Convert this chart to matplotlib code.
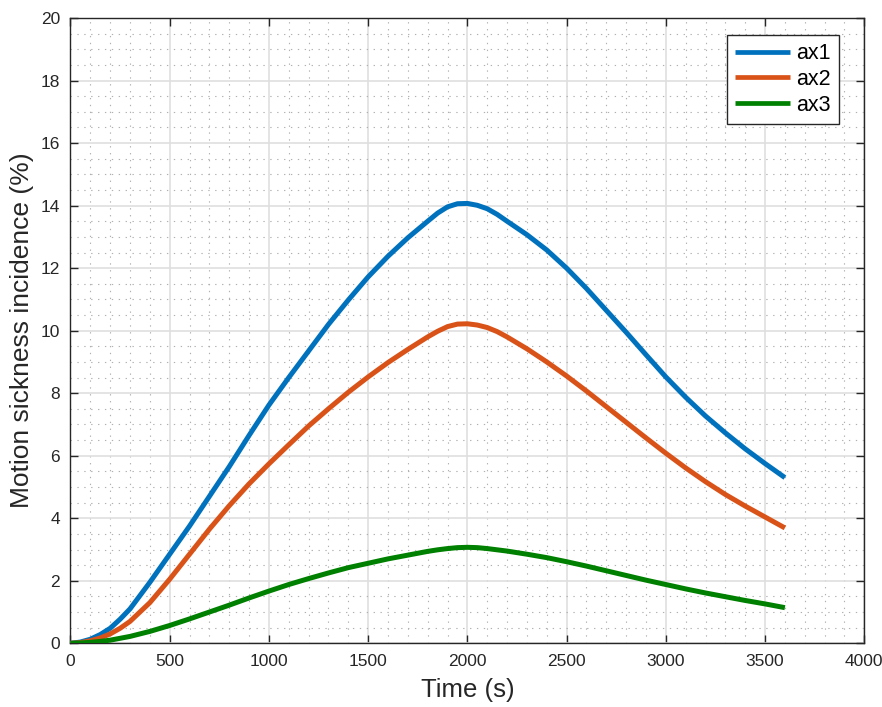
import numpy as np
import matplotlib
matplotlib.use("Agg")
import matplotlib.pyplot as plt
from matplotlib.ticker import MultipleLocator

# sample times (s), denser near the start and around the peak
t = [0, 50, 100, 150, 200, 250, 300, 400, 500, 600, 700, 800, 900,
     1000, 1100, 1200, 1300, 1400, 1500, 1600, 1700, 1800, 1850, 1900, 1950,
     2000, 2050, 2100, 2150, 2200, 2300, 2400, 2500, 2600, 2700, 2800, 2900,
     3000, 3100, 3200, 3300, 3400, 3500, 3600]

# motion sickness incidence (%) per axis
ax1 = [0, 0.04, 0.13, 0.28, 0.48, 0.77, 1.1, 1.95, 2.85, 3.75, 4.7, 5.65, 6.65,
       7.62, 8.5, 9.35, 10.2, 10.98, 11.72, 12.38, 12.97, 13.5, 13.76, 13.96, 14.06,
       14.07, 14.01, 13.9, 13.72, 13.5, 13.07, 12.58, 12.0, 11.35, 10.65, 9.95, 9.23,
       8.52, 7.87, 7.27, 6.73, 6.22, 5.75, 5.3]
ax2 = [0, 0.02, 0.08, 0.17, 0.3, 0.48, 0.7, 1.3, 2.05, 2.85, 3.65, 4.4, 5.1,
       5.74, 6.35, 6.95, 7.5, 8.03, 8.52, 8.98, 9.4, 9.8, 9.98, 10.13, 10.21,
       10.22, 10.18, 10.1, 9.97, 9.8, 9.42, 9.0, 8.55, 8.07, 7.57, 7.07, 6.57,
       6.08, 5.61, 5.17, 4.76, 4.39, 4.04, 3.69]
ax3 = [0, 0.01, 0.03, 0.06, 0.1, 0.16, 0.22, 0.38, 0.57, 0.78, 1.0, 1.22, 1.45,
       1.67, 1.88, 2.07, 2.25, 2.42, 2.56, 2.7, 2.82, 2.94, 2.99, 3.03, 3.06,
       3.07, 3.06, 3.03, 2.99, 2.95, 2.85, 2.74, 2.61, 2.47, 2.32, 2.17, 2.02,
       1.88, 1.74, 1.61, 1.49, 1.37, 1.26, 1.14]

labels = ["ax1", "ax2", "ax3"]
colors = ["#0072BD", "#D95319", "#008000"]

plt.rcParams['font.family'] = ['Liberation Sans', 'DejaVu Sans']
txt = "#262626"

fig = plt.figure(figsize=(8.82, 7.07), dpi=100)
ax = fig.add_axes([0.0799, 0.0901, 0.9, 0.8844])

for y, lab, c in zip([ax1, ax2, ax3], labels, colors):
    ax.plot(t, y, color=c, lw=3.6, label=lab, solid_capstyle='butt',
            solid_joinstyle='round', zorder=3)

ax.set_xlim(0, 4000)
ax.set_ylim(0, 20)
ax.xaxis.set_major_locator(MultipleLocator(500))
ax.yaxis.set_major_locator(MultipleLocator(2))
ax.xaxis.set_minor_locator(MultipleLocator(100))
ax.yaxis.set_minor_locator(MultipleLocator(0.5))

ax.grid(which='major', color='#dfdfdf', lw=1.2, ls='-', zorder=0)
ax.grid(which='minor', color='#b0b0b0', lw=0.8, ls=(0, (1.2, 5)), zorder=0)
ax.set_axisbelow(True)

ax.tick_params(which='major', direction='in', length=6, width=1,
               top=True, right=True, labelsize=12.5, colors=txt, pad=7.5)
ax.tick_params(which='minor', length=0)
for s in ax.spines.values():
    s.set_color(txt)
    s.set_linewidth(1)

ax.set_xlabel("Time (s)", fontsize=18.5, color=txt, labelpad=7)
ax.set_ylabel("Motion sickness incidence (%)", fontsize=19, color=txt, labelpad=5)

leg = ax.legend(loc='upper right', bbox_to_anchor=(0.968, 0.973), fontsize=15.5,
                fancybox=False, framealpha=1, edgecolor=txt, handlelength=2.55,
                borderpad=0.38, labelspacing=0.22, handletextpad=0.3,
                borderaxespad=0)
leg.get_frame().set_linewidth(1)
for tx in leg.get_texts():
    tx.set_color('black')
for ln in leg.get_lines():
    ln.set_linewidth(3.4)

fig.savefig("out.png", dpi=100)
